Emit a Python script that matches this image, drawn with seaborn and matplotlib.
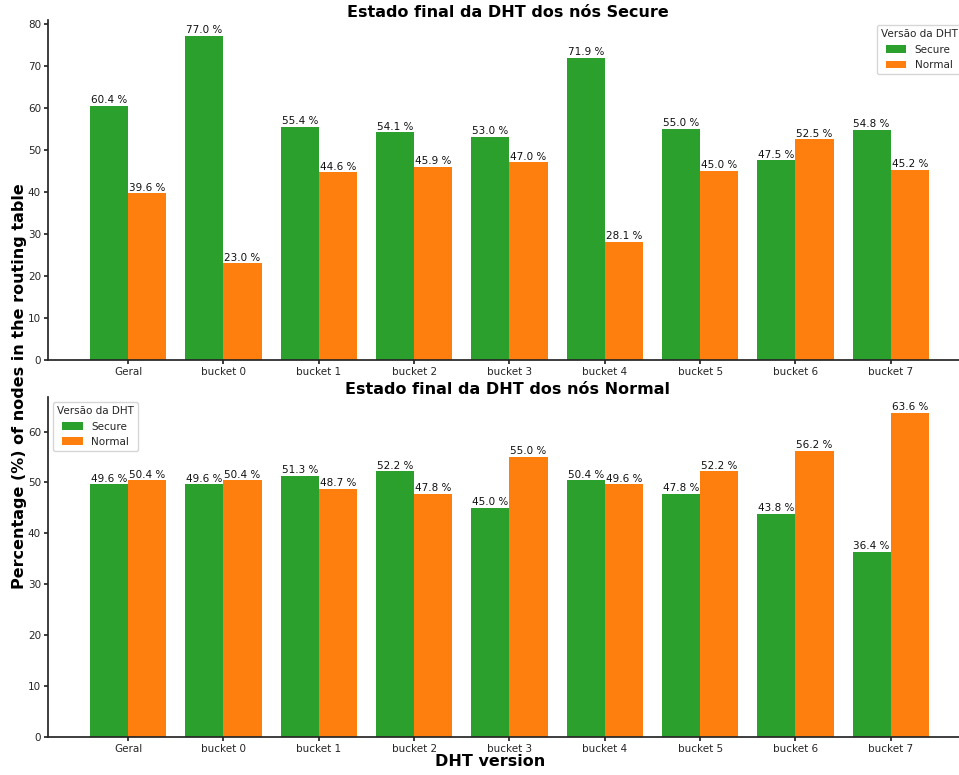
import matplotlib
matplotlib.use("Agg")
import matplotlib.pyplot as plt
import seaborn as sns
import pandas as pd

categories = ["Geral", "bucket 0", "bucket 1", "bucket 2", "bucket 3",
              "bucket 4", "bucket 5", "bucket 6", "bucket 7"]
versions = ["Secure", "Normal"]

# Top chart: final DHT state of Secure nodes
secure_nodes_secure = [60.4, 77.0, 55.4, 54.1, 53.0, 71.9, 55.0, 47.5, 54.8]
secure_nodes_normal = [39.6, 23.0, 44.6, 45.9, 47.0, 28.1, 45.0, 52.5, 45.2]

# Bottom chart: final DHT state of Normal nodes
normal_nodes_secure = [49.6, 49.6, 51.3, 52.2, 45.0, 50.4, 47.8, 43.8, 36.4]
normal_nodes_normal = [50.4, 50.4, 48.7, 47.8, 55.0, 49.6, 52.2, 56.2, 63.6]

titles = ["Estado final da DHT dos nós Secure", "Estado final da DHT dos nós Normal"]

sns.set_theme(style="ticks")
plt.rcParams["font.family"] = ["DejaVu Sans"]

palette = {"Secure": "#2ca02c", "Normal": "#ff7f0e"}


def make_df(sec, nor):
    return pd.DataFrame({
        "bucket": categories * 2,
        "version": ["Secure"] * len(categories) + ["Normal"] * len(categories),
        "value": list(sec) + list(nor),
    })


fig = plt.figure(figsize=(9.59, 7.75), dpi=100)
W, H = 959, 775
left_px, right_px = 48, 967
ax1 = fig.add_axes([left_px / W, 1 - 360 / H, (right_px - left_px) / W, 340 / H])
ax2 = fig.add_axes([left_px / W, 1 - 737 / H, (right_px - left_px) / W, 340 / H])

data = [(secure_nodes_secure, secure_nodes_normal, "upper right"),
        (normal_nodes_secure, normal_nodes_normal, "upper left")]

for ax, (sec, nor, loc), title in zip([ax1, ax2], data, titles):
    df = make_df(sec, nor)
    sns.barplot(data=df, x="bucket", y="value", hue="version",
                hue_order=versions, order=categories, palette=palette,
                saturation=1, width=0.8, linewidth=0, ax=ax)
    for cont in ax.containers:
        ax.bar_label(cont, fmt="%.1f %%", fontsize=7.5, padding=0.5, color="#111111")
    vmax = max(max(sec), max(nor))
    ax.set_ylim(0, vmax * 1.05)
    ax.set_xlim(-0.841, 8.80)
    ax.set_title(title, fontsize=11.5, fontweight="bold", color="black", pad=2.5)
    ax.set_xlabel("")
    ax.set_ylabel("")
    ax.tick_params(axis="both", labelsize=7.5, length=3, pad=2)
    sns.despine(ax=ax)
    leg = ax.legend(title="Versão da DHT", loc=loc, fontsize=7.5,
                    title_fontsize=7.5)

fig.text(19.5 / W, 1 - 386 / H, "Percentage (%) of nodes in the routing table",
         rotation=90, ha="center", va="center", fontsize=11.5,
         fontweight="bold", color="black")
fig.text(490 / W, 1 - 761 / H, "DHT version", ha="center", va="center",
         fontsize=11.5, fontweight="bold", color="black")

fig.savefig("out.png", dpi=100)
